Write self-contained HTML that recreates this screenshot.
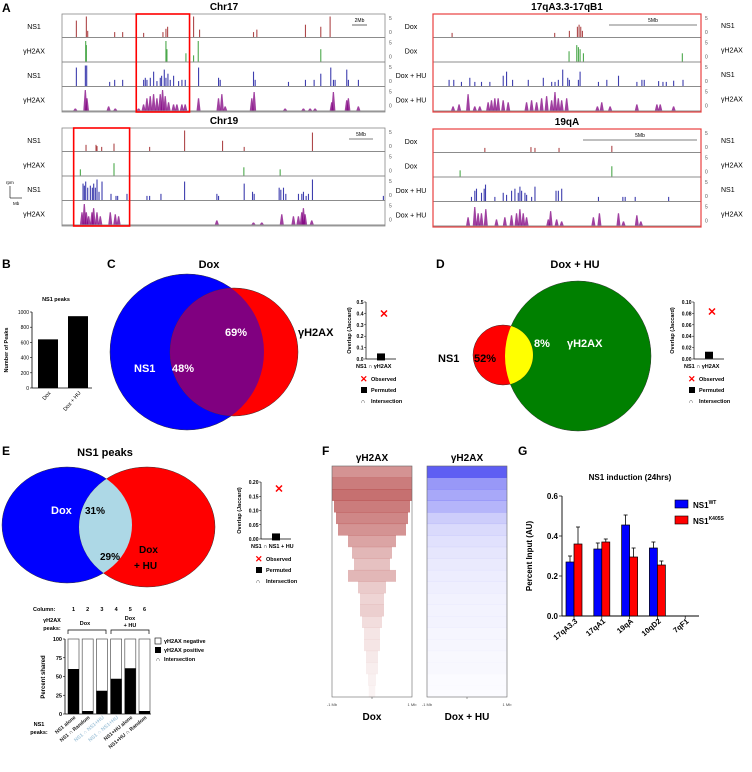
<!DOCTYPE html>
<html><head><meta charset="utf-8"><style>
body{margin:0;background:#fff}
svg{display:block;font-family:"Liberation Sans",Arial,sans-serif}
</style></head><body>
<svg id="fig" width="752" height="772" viewBox="0 0 752 772">
<defs>
<clipPath id="clipBlueC"><ellipse cx="187" cy="352" rx="77" ry="78"/></clipPath>
<clipPath id="clipGreenD"><ellipse cx="578" cy="356" rx="73" ry="75"/></clipPath>
<clipPath id="clipBlueE"><ellipse cx="67" cy="525" rx="65" ry="58"/></clipPath>
</defs>
<g id="panelA"></g>
<g id="panelB"></g>
<g id="panelC">
 <ellipse cx="187" cy="352" rx="77" ry="78" fill="#0000ff" stroke="#333" stroke-width="0.5"/>
 <ellipse cx="234" cy="352" rx="64" ry="64" fill="#ff0000" stroke="#333" stroke-width="0.5"/>
 <ellipse cx="234" cy="352" rx="64" ry="64" fill="#800080" clip-path="url(#clipBlueC)"/>
</g>
<g id="panelD">
 <ellipse cx="578" cy="356" rx="73" ry="75" fill="#008000" stroke="#333" stroke-width="0.5"/>
 <ellipse cx="503" cy="355" rx="30" ry="30" fill="#ff0000" stroke="#333" stroke-width="0.5"/>
 <ellipse cx="503" cy="355" rx="30" ry="30" fill="#ffff00" clip-path="url(#clipGreenD)"/>
</g>
<g id="panelE">
 <ellipse cx="67" cy="525" rx="65" ry="58" fill="#0000ff" stroke="#333" stroke-width="0.5"/>
 <ellipse cx="147" cy="527" rx="68" ry="60" fill="#ff0000" stroke="#333" stroke-width="0.5"/>
 <ellipse cx="147" cy="527" rx="68" ry="60" fill="#add8e6" clip-path="url(#clipBlueE)"/>
</g>
<g id="panelF"></g>
<g id="panelG"></g>
<g id="texts" font-weight="bold">
 <text x="2" y="12" font-size="12">A</text>
 <text x="2" y="268" font-size="12">B</text>
 <text x="107" y="268" font-size="12">C</text>
 <text x="436" y="268" font-size="12">D</text>
 <text x="2" y="455" font-size="12">E</text>
 <text x="322" y="455" font-size="12">F</text>
 <text x="518" y="455" font-size="12">G</text>
 <text x="224" y="10" font-size="10" text-anchor="middle">Chr17</text>
 <text x="224" y="124" font-size="10" text-anchor="middle">Chr19</text>
 <text x="567" y="10" font-size="10" text-anchor="middle">17qA3.3-17qB1</text>
 <text x="567" y="125" font-size="10" text-anchor="middle">19qA</text>
 <text x="209" y="268" font-size="11" text-anchor="middle">Dox</text>
 <text x="575" y="268" font-size="11" text-anchor="middle">Dox + HU</text>
 <text x="105" y="456" font-size="11" text-anchor="middle">NS1 peaks</text>
 <g fill="#fff" font-size="11">
  <text x="134" y="372">NS1</text>
  <text x="172" y="372">48%</text>
  <text x="225" y="336">69%</text>
  <text x="534" y="347">8%</text>
  <text x="567" y="347">γH2AX</text>
  <text x="51" y="514">Dox</text>
 </g>
 <text x="298" y="336" font-size="11">γH2AX</text>
 <text x="438" y="362" font-size="11">NS1</text>
 <text x="474" y="362" font-size="11">52%</text>
 <text x="85" y="514" font-size="10">31%</text>
 <text x="100" y="560" font-size="10">29%</text>
 <text x="139" y="553" font-size="10">Dox</text>
 <text x="134" y="569" font-size="10">+ HU</text>
</g>
</svg>
<script>
const NS="http://www.w3.org/2000/svg";
function mk(parent,tag,attrs,txt){const e=document.createElementNS(NS,tag);for(const k in attrs)e.setAttribute(k,attrs[k]);if(txt!==undefined)e.textContent=txt;parent.appendChild(e);return e;}

// ===== Panel A data (positions in region units, heights in rpm 0-5) =====
const chr17NS1Dox=[[228,4],[258,5],[262,1.5],[343,1.2],[367,1.2],[430,1],[488,1.2],[497,2],[502,2.5],[580,5],[598,1.8],[760,1.2],[770,1.8],[916,3],[962,2.5],[990,5]];
const chr17GDox=[[256,5],[258,4],[497,5],[500,3],[557,2],[580,1.5],[594,5],[962,3]];
const chr17NS1HU=[[228,4.5],[255,5],[259,5],[328,1],[343,1.5],[367,1.5],[430,1.5],[435,2],[440,1.5],[450,2],[460,3.5],[470,1.2],[480,2],[484,2.5],[492,4],[497,2],[503,3],[510,1.5],[520,2.5],[535,1.2],[545,1.5],[555,1.5],[595,4.5],[655,2],[660,1.5],[760,3.5],[765,1.5],[865,1],[916,1.5],[942,1.5],[962,3],[992,4.5],[1000,1.5],[1005,1.5],[1040,4],[1045,1.5],[1075,1.5]];
const chr17GHU=[[225,0.5],[255,5],[260,3],[325,1],[345,0.5],[415,0.5],[430,1.5],[440,3],[450,3.5],[460,4],[470,3],[480,4],[487,5],[495,3.5],[505,2],[520,1.5],[530,1.5],[545,1.5],[555,1.5],[595,3],[655,3],[665,4],[675,1],[755,3],[762,4.5],[855,0.5],[910,0.5],[930,0.5],[945,0.5],[995,2],[1000,4.5],[1040,2.5],[1045,3],[1075,1]];
const chr19NS1Dox=[[257,1.5],[287,1.5],[290,1.2],[304,1],[341,1.8],[448,1],[553,5],[667,2.5],[732,1],[937,4.5]];
const chr19GDox=[[240,1.5],[341,3],[731,2],[840,1.5]];
const chr19NS1HU=[[248,4],[252,3.5],[256,4.5],[262,3],[270,3.5],[276,3],[280,4],[285,3],[290,5],[296,2],[305,4.5],[332,1.5],[347,1],[352,1],[380,1.5],[440,1],[448,1],[482,1.5],[553,4.5],[650,1.5],[655,1],[732,4],[757,2],[762,1.5],[837,3],[842,2.5],[850,3],[857,1.5],[895,1.5],[905,1.5],[910,2],[918,1],[925,1.5],[937,5],[1150,1]];
const chr19GHU=[[245,3],[252,5],[258,3],[265,2],[275,3],[280,4],[290,3],[300,2],[330,3],[345,2.5],[355,2],[650,1],[760,0.5],[785,0.5],[845,2.5],[880,2],[895,2],[905,3],[910,4],[915,2.5],[935,1]];
const z17NS1Dox=[[217,1],[524,1],[568,1.5],[592,2.5],[597,3],[602,2.5],[607,1.5]];
const z17GDox=[[567,2.5],[590,4],[595,3.5],[600,3],[610,2],[906,2]];
const z17NS1HU=[[208,1.5],[222,1.5],[245,1],[270,2],[285,1],[305,1],[330,1],[370,2.5],[380,3.5],[398,1.5],[445,1.5],[490,2],[515,1],[525,1],[535,1.5],[548,4],[563,2],[568,1.5],[595,1.5],[600,3.5],[655,1],[680,1.5],[715,2.5],[770,1],[785,1.5],[792,1.5],[835,1.2],[848,1],[858,1],[880,1.3],[908,1.5]];
const z17GHU=[[220,1],[238,1.5],[265,4],[285,1],[300,1],[325,2],[335,2.5],[345,3],[355,3],[370,2.5],[385,2],[440,2],[455,2.5],[470,2],[485,3],[500,3.5],[515,2.5],[525,4.5],[535,3],[545,2.5],[560,3],[652,1],[665,2],[690,1],[770,1.5],[830,1.5],[840,1.5],[880,1]];
const z19NS1Dox=[[315,1],[453,1.2],[465,1],[537,1],[695,1.5]];
const z19GDox=[[241,1.5],[695,2.5]];
const z19NS1HU=[[275,1],[285,2.5],[290,3],[305,2],[313,3],[317,4],[345,1],[370,2],[380,1.5],[395,2.5],[405,3],[415,2],[420,3.5],[425,2.5],[435,2],[440,1.5],[455,1],[465,3.5],[528,2.5],[535,2.5],[545,3],[655,1],[728,1],[735,1],[765,1],[865,1]];
const z19GHU=[[265,2],[285,4.5],[295,3],[305,3],[318,4],[350,1.5],[375,2],[395,2.5],[410,3],[420,4],[430,3],[440,2],[505,1.5],[512,3.5],[530,1.5],[545,1],[640,2],[658,3],[715,3],[730,1],[770,2.5],[782,1]];

const trackColors=["#a0282a","#2e9a2e","#1c1ca0","#800080"];
const trackNames=["ns1-dox","gh2ax-dox","ns1-hu","gh2ax-hu"];
function drawRegion(name,x0,y0,w,startU,endU,tracks,frameColor,left,right,scaleLabel,scaleX0,scaleX1,redBox){
  const A=document.getElementById('panelA');
  const g=mk(A,'g',{});
  
  
  const th=24.5;
  const sx=u=>x0+(u-startU)/(endU-startU)*w;
  tracks.forEach((tr,i)=>{
    const base=y0+th*(i+1)-1.5;
    const sy=v=>v/5*(th-4);
    tr.forEach(p=>{
      const x=sx(p[0]);
      if(i===3){
        const poly=mk(g,'polygon',{points:`${x-2},${base} ${x-0.6},${base-sy(p[1])} ${x+0.6},${base-sy(p[1])} ${x+2},${base}`,fill:trackColors[i],'fill-opacity':0.75});
        
        
      } else {
        const r=mk(g,'rect',{x:x-0.5,y:base-sy(p[1]),width:1.1,height:sy(p[1]),fill:trackColors[i],'fill-opacity':0.85});
        
        
      }
    });
    mk(g,'line',{x1:x0,x2:x0+w,y1:base+0.5,y2:base+0.5,stroke:'#666','stroke-width':0.8});
    mk(g,'text',{x:x0+w+4,y:y0+th*i+6,'font-size':5,fill:'#555'},'5');
    mk(g,'text',{x:x0+w+4,y:y0+th*i+20,'font-size':5,fill:'#555'},'0');
    const lt=mk(g,'text',{x:x0-(frameColor?22:28),y:y0+th*i+15,'font-size':7,'text-anchor':'middle'},left[i]);
    
    
    if(right){
    const rt=mk(g,'text',{x:x0+w+20,y:y0+th*i+14,'font-size':7,'text-anchor':'start'},right[i]);
    
    }
  });
  const fr=mk(g,'rect',{x:x0,y:y0,width:w,height:th*4,fill:'none',stroke:frameColor||'#888','stroke-width':frameColor?1.2:0.8});
  
  
  mk(g,'line',{x1:scaleX0,x2:scaleX1,y1:y0+11,y2:y0+11,stroke:'#000','stroke-width':0.6});
  mk(g,'text',{x:(scaleX0+scaleX1)/2,y:y0+8,'font-size':5,'text-anchor':'middle'},scaleLabel);
  if(redBox){const rb=mk(g,'rect',{x:sx(redBox[0]),y:y0,width:sx(redBox[1])-sx(redBox[0]),height:th*4,fill:'none',stroke:'#f00','stroke-width':1.6});
    
    }
}
drawRegion('track-chr17',62,14,323,185,1155,[chr17NS1Dox,chr17GDox,chr17NS1HU,chr17GHU],null,["NS1","γH2AX","NS1","γH2AX"],null,'2Mb',352,367,[408,568]);
drawRegion('track-chr19',62,128,323,185,1155,[chr19NS1Dox,chr19GDox,chr19NS1HU,chr19GHU],null,["NS1","γH2AX","NS1","γH2AX"],null,'5Mb',349,373,[220,388]);
drawRegion('track-17qa3',433,14,268,160,962,[z17NS1Dox,z17GDox,z17NS1HU,z17GHU],'#e84040',["Dox","Dox","Dox + HU","Dox + HU"],["NS1","γH2AX","NS1","γH2AX"],'5Mb',609,697,null);
drawRegion('track-19qa',433,129,268,160,962,[z19NS1Dox,z19GDox,z19NS1HU,z19GHU],'#e84040',["Dox","Dox","Dox + HU","Dox + HU"],["NS1","γH2AX","NS1","γH2AX"],'5Mb',583,697,null);
(function(){const A=document.getElementById('panelA');
 mk(A,'line',{x1:10,y1:198,x2:10,y2:186,stroke:'#000','stroke-width':0.6});
 mk(A,'line',{x1:10,y1:198,x2:22,y2:198,stroke:'#000','stroke-width':0.6});
 mk(A,'text',{x:6,y:184,'font-size':4.5},'rpm');mk(A,'text',{x:13,y:205,'font-size':4.5},'Mb');})();

// ===== Panel B data =====
const bCats=["Dox","Dox + HU"];
const bVals=[640,945];
const bTicks=[0,200,400,600,800,1000];
(function(){const P=document.getElementById('panelB');
 const y=v=>388-v/1000*76; const x0=32;
 mk(P,'text',{x:56,y:301,'font-size':5.5,'font-weight':'bold','text-anchor':'middle'},'NS1 peaks');
 mk(P,'line',{x1:x0,y1:y(1000),x2:x0,y2:388,stroke:'#000','stroke-width':0.8});
 mk(P,'line',{x1:x0,y1:388,x2:92,y2:388,stroke:'#000','stroke-width':0.8});
 bTicks.forEach(t=>{mk(P,'line',{x1:x0-2,x2:x0,y1:y(t),y2:y(t),stroke:'#000','stroke-width':0.6});
  mk(P,'text',{x:x0-3,y:y(t)+2,'font-size':5,'text-anchor':'end'},t);});
 mk(P,'text',{x:0,y:0,'font-size':5.5,'font-weight':'bold','text-anchor':'middle',transform:'translate(8,350) rotate(-90)'},'Number of Peaks');
 bCats.forEach((c,i)=>{const bx=38+i*30;
  const r=mk(P,'rect',{x:bx,y:y(bVals[i]),width:20,height:388-y(bVals[i]),fill:'#000'});
  
  
  mk(P,'text',{x:0,y:0,'font-size':5.5,'text-anchor':'end',transform:`translate(${bx+13},393) rotate(-50)`},c);});
})();

// ===== Jaccard mini charts =====
const jC={obs:0.4,perm:0.005,max:0.5,ticks:[0,0.1,0.2,0.3,0.4,0.5],lab:"NS1 ∩ γH2AX"};
const jD={obs:0.083,perm:0.004,max:0.1,ticks:[0,0.02,0.04,0.06,0.08,0.10],lab:"NS1 ∩ γH2AX"};
const jE={obs:0.177,perm:0.002,max:0.2,ticks:[0,0.05,0.10,0.15,0.20],lab:"NS1 ∩ NS1 + HU"};
function jaccard(name,ax,y0,y1,d,dec,legY){
 const P=document.getElementById(name==='jac-e'?'panelE':(name==='jac-c'?'panelC':'panelD'));
 const g=mk(P,'g',{});  
 const y=v=>y0-(v/d.max)*(y0-y1);
 mk(g,'line',{x1:ax,x2:ax,y1:y1,y2:y0,stroke:'#000','stroke-width':0.7});
 mk(g,'line',{x1:ax,x2:ax+30,y1:y0,y2:y0,stroke:'#000','stroke-width':0.7});
 d.ticks.forEach(t=>{mk(g,'line',{x1:ax-2,x2:ax,y1:y(t),y2:y(t),stroke:'#000','stroke-width':0.5});
  mk(g,'text',{x:ax-2.5,y:y(t)+2,'font-size':5,'font-weight':'bold','text-anchor':'end'},t.toFixed(dec));});
 mk(g,'text',{x:0,y:0,'font-size':5.5,'font-weight':'bold','text-anchor':'middle',transform:`translate(${ax-(dec===2?20:15)},${(y0+y1)/2}) rotate(-90)`},'Overlap (Jaccard)');
 const cx=ax+14;
 const o=mk(g,'text',{x:cx+4,y:y(d.obs)+4,'font-size':11,'font-weight':'bold',fill:'#f00','text-anchor':'middle'},'✕');
  
 const s=mk(g,'rect',{x:cx-3,y:y(d.perm)-5,width:8,height:7,fill:'#000'});
  
 mk(g,'text',{x:ax-10,y:y0+9,'font-size':5.5,'font-weight':'bold'},d.lab);
 mk(g,'text',{x:ax-6,y:legY,'font-size':9,'font-weight':'bold',fill:'#f00'},'✕');
 mk(g,'text',{x:ax+5,y:legY-1,'font-size':5.5,'font-weight':'bold'},'Observed');
 mk(g,'rect',{x:ax-5,y:legY+5,width:6,height:6,fill:'#000'});
 mk(g,'text',{x:ax+5,y:legY+10,'font-size':5.5,'font-weight':'bold'},'Permuted');
 mk(g,'text',{x:ax-5,y:legY+21,'font-size':5.5},'∩');
 mk(g,'text',{x:ax+5,y:legY+21,'font-size':5.5,'font-weight':'bold'},'Intersection');
}
jaccard('jac-c',366,359,302,jC,1,382);
jaccard('jac-d',694,359,302,jD,2,382);
jaccard('jac-e',261,539,482,jE,2,562);

// ===== Panel E stacked bars =====
const eCols=[1,2,3,4,5,6];
const ePos=[60,4,31,47,61,4];
const eTicks=[0,25,50,75,100];
const eLabels=["NS1 alone","NS1 ∩ Random","NS1 ∩ NS1+HU","NS1 ∩ NS1+HU","NS1+HU alone","NS1+HU ∩ Random"];
const eLabColors=["#6a5cff","#6a5cff","#bcd8ea","#bcd8ea","#ff3030","#ff3030"];
(function(){const P=document.getElementById('panelE');
 const y=v=>714-v/100*75; const ax=65;
 mk(P,'line',{x1:ax,x2:ax,y1:y(100),y2:714,stroke:'#000','stroke-width':0.8});
 mk(P,'line',{x1:ax,x2:151,y1:714,y2:714,stroke:'#000','stroke-width':0.8});
 eTicks.forEach(t=>{mk(P,'line',{x1:ax-2,x2:ax,y1:y(t),y2:y(t),stroke:'#000','stroke-width':0.6});
  mk(P,'text',{x:ax-3,y:y(t)+2,'font-size':5.5,'font-weight':'bold','text-anchor':'end'},t);});
 mk(P,'text',{x:0,y:0,'font-size':6,'font-weight':'bold','text-anchor':'middle',transform:'translate(45,677) rotate(-90)'},'Percent shared');
 mk(P,'text',{x:33,y:611,'font-size':5.5,'font-weight':'bold'},'Column:');
 eCols.forEach((c,i)=>{const bx=68+i*14.2;
  mk(P,'text',{x:bx+5.5,y:611,'font-size':5.5,'font-weight':'bold','text-anchor':'middle'},c);
  const w=mk(P,'rect',{x:bx,y:y(100),width:11,height:75,fill:'#fff',stroke:'#555','stroke-width':0.7});
   
  const b=mk(P,'rect',{x:bx,y:y(ePos[i]),width:11,height:714-y(ePos[i]),fill:'#000'});
   
  const lx=bx+8;
  const lab=mk(P,'text',{x:0,y:0,'font-size':5.2,'font-weight':'bold','text-anchor':'end',fill:eLabColors[i]==='#bcd8ea'?'#a8c8dc':'#222',transform:`translate(${lx},718) rotate(-40)`},eLabels[i]);
   
 });
 mk(P,'text',{x:52,y:622,'font-size':5.5,'font-weight':'bold','text-anchor':'middle'},'γH2AX');
 mk(P,'text',{x:52,y:630,'font-size':5.5,'font-weight':'bold','text-anchor':'middle'},'peaks:');
 mk(P,'text',{x:85,y:625,'font-size':5.5,'font-weight':'bold','text-anchor':'middle'},'Dox');
 mk(P,'text',{x:130,y:620,'font-size':5.5,'font-weight':'bold','text-anchor':'middle'},'Dox');
 mk(P,'text',{x:130,y:627,'font-size':5.5,'font-weight':'bold','text-anchor':'middle'},'+ HU');
 mk(P,'path',{d:'M68,634 V630 H106 V634 M111,634 V630 H149 V634',fill:'none',stroke:'#000','stroke-width':0.7});
 mk(P,'text',{x:39,y:726,'font-size':5.5,'font-weight':'bold','text-anchor':'middle'},'NS1');
 mk(P,'text',{x:39,y:734,'font-size':5.5,'font-weight':'bold','text-anchor':'middle'},'peaks:');
 mk(P,'rect',{x:155,y:638,width:6,height:6,fill:'#fff',stroke:'#000','stroke-width':0.6});
 mk(P,'text',{x:164,y:643,'font-size':5.5,'font-weight':'bold'},'γH2AX negative');
 mk(P,'rect',{x:155,y:647,width:6,height:6,fill:'#000'});
 mk(P,'text',{x:164,y:652,'font-size':5.5,'font-weight':'bold'},'γH2AX positive');
 mk(P,'text',{x:156,y:661,'font-size':5.5},'∩');
 mk(P,'text',{x:164,y:661,'font-size':5.5,'font-weight':'bold'},'Intersection');
})();

// ===== Panel F heatmaps (band densities by row, top to bottom) =====
const fRedDensity=[0.45,0.55,0.6,0.55,0.5,0.45,0.38,0.3,0.26,0.3,0.22,0.18,0.2,0.14,0.11,0.11,0.09,0.07,0.06,0.05];
const fRedWidth=[1,1,1,0.95,0.9,0.85,0.6,0.5,0.45,0.6,0.35,0.3,0.3,0.25,0.2,0.2,0.15,0.15,0.1,0.08];
const fBlueDensity=[0.7,0.45,0.38,0.32,0.22,0.16,0.13,0.11,0.09,0.08,0.07,0.06,0.05,0.05,0.04,0.04,0.03,0.03,0.02,0.02];
(function(){const P=document.getElementById('panelF');
 const top=466,bot=697,n=fRedDensity.length,bh=(bot-top)/n;
 function hm(x0,w,dens,widths,color,nm){
  const g=mk(P,'g',{});  
  dens.forEach((d,i)=>{const ww=w*(widths?widths[i]:1);
   const c=mk(g,'rect',{x:x0+(w-ww)/2,y:top+i*bh,width:ww,height:bh+0.3,fill:color,'fill-opacity':d});
    });
  mk(g,'rect',{x:x0,y:top,width:w,height:bot-top,fill:'none',stroke:'#666','stroke-width':0.6});
  mk(g,'text',{x:x0,y:706,'font-size':4,'text-anchor':'middle',fill:'#444'},'-1 Mb');
  mk(g,'text',{x:x0+w,y:706,'font-size':4,'text-anchor':'middle',fill:'#444'},'1 Mb');
  mk(g,'line',{x1:x0+w/2,x2:x0+w/2,y1:bot,y2:bot+2,stroke:'#444','stroke-width':0.5});
  mk(g,'text',{x:x0+w/2,y:461,'font-size':10,'font-weight':'bold','text-anchor':'middle'},'γH2AX');
 }
 hm(332,80,fRedDensity,fRedWidth,'#a01010','heatmap-dox');
 hm(427,80,fBlueDensity,null,'#1a1aee','heatmap-dox-hu');
 mk(P,'text',{x:372,y:720,'font-size':10,'font-weight':'bold','text-anchor':'middle'},'Dox');
 mk(P,'text',{x:467,y:720,'font-size':10,'font-weight':'bold','text-anchor':'middle'},'Dox + HU');
})();

// ===== Panel G =====
const gCats=["17qA3.3","17qA1","19qA","10qD2","7qF1"];
const gWT=[0.27,0.335,0.455,0.34,0];
const gWTerr=[0.03,0.03,0.05,0.03,0];
const gK=[0.36,0.37,0.295,0.255,0];
const gKerr=[0.085,0.015,0.045,0.02,0];
const gTicks=[0,0.2,0.4,0.6];
(function(){const P=document.getElementById('panelG');
 const y=v=>616-v*200; const ax=562;
 mk(P,'text',{x:630,y:480,'font-size':8,'font-weight':'bold','text-anchor':'middle'},'NS1 induction (24hrs)');
 mk(P,'line',{x1:ax,x2:ax,y1:y(0.6),y2:616,stroke:'#000','stroke-width':0.9});
 mk(P,'line',{x1:ax,x2:699,y1:616,y2:616,stroke:'#000','stroke-width':0.9});
 gTicks.forEach(t=>{mk(P,'line',{x1:ax-3,x2:ax,y1:y(t),y2:y(t),stroke:'#000','stroke-width':0.7});
  mk(P,'text',{x:ax-4,y:y(t)+3,'font-size':8,'font-weight':'bold','text-anchor':'end'},t.toFixed(1));});
 mk(P,'text',{x:0,y:0,'font-size':8,'font-weight':'bold','text-anchor':'middle',transform:'translate(532,556) rotate(-90)'},'Percent Input (AU)');
 gCats.forEach((c,i)=>{const cx=574+i*27.8;
  [[gWT,gWTerr,'#0000ff',-8,'wt'],[gK,gKerr,'#ff0000',0,'k405s']].forEach(s=>{
   const v=s[0][i]; if(v<=0)return;
   const bx=cx+s[3];
   mk(P,'line',{x1:bx+4,x2:bx+4,y1:y(v),y2:y(v+s[1][i]),stroke:'#000','stroke-width':0.8});
   mk(P,'line',{x1:bx+2,x2:bx+6,y1:y(v+s[1][i]),y2:y(v+s[1][i]),stroke:'#000','stroke-width':0.8});
   const r=mk(P,'rect',{x:bx,y:y(v),width:8,height:616-y(v),fill:s[2],stroke:'#000','stroke-width':0.7});
    
  });
  mk(P,'line',{x1:cx,x2:cx,y1:616,y2:619,stroke:'#000','stroke-width':0.7});
  mk(P,'text',{x:0,y:0,'font-size':7.5,'font-weight':'bold','text-anchor':'end',transform:`translate(${cx+4},622) rotate(-40)`},c);
 });
 mk(P,'rect',{x:675,y:500,width:13,height:8,fill:'#0000ff',stroke:'#000','stroke-width':0.6});
 const t1=mk(P,'text',{x:693,y:508,'font-size':8,'font-weight':'bold'},'NS1');
 mk(t1,'tspan',{'font-size':5,dy:-4},'WT');
 mk(P,'rect',{x:675,y:516,width:13,height:8,fill:'#ff0000',stroke:'#000','stroke-width':0.6});
 const t2=mk(P,'text',{x:693,y:524,'font-size':8,'font-weight':'bold'},'NS1');
 mk(t2,'tspan',{'font-size':5,dy:-4},'K405S');
})();
</script>
</body></html>
